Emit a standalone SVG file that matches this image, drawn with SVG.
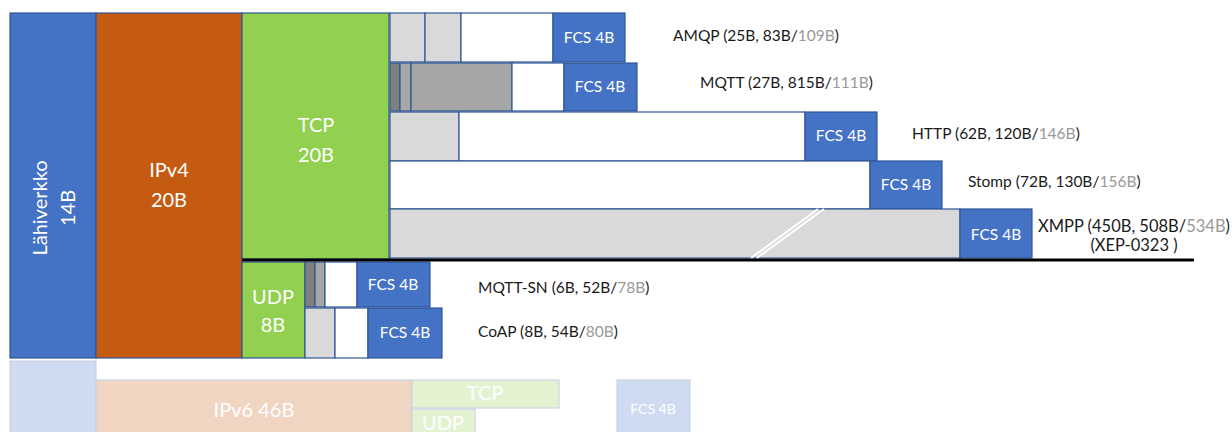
<svg xmlns="http://www.w3.org/2000/svg" width="1232" height="432" viewBox="0 0 1232 432">
<style>
rect{stroke:#2f5597;stroke-width:1.2}
.blue{fill:#4472c4}
.org{fill:#c55a11}
.grn{fill:#92d050}
.lg{fill:#d9d9d9}
.mg{fill:#a6a6a6}
.dg{fill:#7f7f7f}
.wh{fill:#ffffff}
text{font-family:Lato,"Open Sans","Liberation Sans",sans-serif}
.big{font-size:20px;fill:#fff;text-anchor:middle}
.fcs{font-size:15.5px;fill:#fff;text-anchor:middle}
.lbl{font-size:15.5px;fill:#1a1a1a}
.gr{fill:#999999}
</style>
<g id="faded" opacity="0.25">
<rect class="blue" x="10" y="361" width="86" height="75"/>
<rect class="org" x="96" y="380" width="316" height="56"/>
<rect class="grn" x="412" y="380" width="147" height="28"/>
<rect class="grn" x="412" y="409" width="63" height="27"/>
<rect class="blue" x="617" y="380" width="73" height="56"/>
</g>
<g id="faded-text">
<text class="big" x="254" y="417">IPv6 46B</text>
<text class="big" x="485" y="400">TCP</text>
<text class="big" x="443" y="430">UDP</text>
<text class="fcs" x="653" y="414" style="font-size:14px">FCS 4B</text>
</g>
<g id="lahiverkko">
<rect class="blue" x="10" y="13" width="86" height="345"/>
<text class="big" transform="translate(53,208) rotate(-90)"><tspan x="0" y="-6">Lähiverkko</tspan><tspan x="0" y="22">14B</tspan></text>
</g>
<g id="ipv4">
<rect class="org" x="96" y="13" width="146" height="345"/>
<text class="big"><tspan x="169" y="177">IPv4</tspan><tspan x="169" y="207">20B</tspan></text>
</g>
<g id="tcp">
<rect class="grn" x="242" y="13" width="147" height="246"/>
<text class="big"><tspan x="316" y="132">TCP</tspan><tspan x="316" y="162">20B</tspan></text>
</g>
<g id="udp">
<rect class="grn" x="242" y="262" width="63" height="96"/>
<text class="big"><tspan x="273" y="304">UDP</tspan><tspan x="273" y="332">8B</tspan></text>
</g>
<g id="amqp">
<rect class="lg" x="390" y="13" width="35" height="49"/>
<rect class="lg" x="425" y="13" width="36" height="49"/>
<rect class="wh" x="461" y="13" width="92" height="49"/>
<rect class="blue" x="553" y="13" width="72" height="49"/>
<text class="fcs" x="589" y="43">FCS 4B</text>
<text class="lbl" x="673" y="41">AMQP (25B, 83B/<tspan class="gr">109B</tspan>)</text>
</g>
<g id="mqtt">
<rect class="dg" x="390" y="63" width="10" height="48"/>
<rect class="mg" x="400" y="63" width="11" height="48"/>
<rect class="mg" x="411" y="63" width="101" height="48"/>
<rect class="wh" x="512" y="63" width="52" height="48"/>
<rect class="blue" x="564" y="63" width="73" height="48"/>
<text class="fcs" x="600" y="92">FCS 4B</text>
<text class="lbl" x="700" y="88">MQTT (27B, 815B/<tspan class="gr">111B</tspan>)</text>
</g>
<g id="http">
<rect class="lg" x="390" y="112" width="69" height="49"/>
<rect class="wh" x="459" y="112" width="346" height="49"/>
<rect class="blue" x="805" y="112" width="72" height="49"/>
<text class="fcs" x="841" y="141">FCS 4B</text>
<text class="lbl" x="912" y="139">HTTP (62B, 120B/<tspan class="gr">146B</tspan>)</text>
</g>
<g id="stomp">
<rect class="wh" x="390" y="161" width="480" height="48"/>
<rect class="blue" x="870" y="161" width="72" height="48"/>
<text class="fcs" x="906" y="190">FCS 4B</text>
<text class="lbl" x="968" y="187">Stomp (72B, 130B/<tspan class="gr">156B</tspan>)</text>
</g>
<g id="xmpp">
<rect class="lg" x="390" y="209" width="570" height="49"/>
<line x1="751" y1="258" x2="818" y2="209" stroke="#fff" stroke-width="2"/>
<line x1="757" y1="258" x2="824" y2="209" stroke="#fff" stroke-width="2"/>
<rect class="blue" x="960" y="209" width="72" height="49"/>
<text class="fcs" x="996" y="240">FCS 4B</text>
<text class="lbl" x="1038" y="232" style="font-size:16.5px">XMPP (450B, 508B/<tspan class="gr">534B</tspan>)</text>
<text class="lbl" x="1134" y="251" text-anchor="middle" style="font-size:16.5px">(XEP-0323 )</text>
</g>
<g id="mqtt-sn">
<rect class="dg" x="305" y="262" width="10" height="45"/>
<rect class="mg" x="315" y="262" width="10" height="45"/>
<rect class="wh" x="325" y="262" width="32" height="45"/>
<rect class="blue" x="357" y="262" width="73" height="45"/>
<text class="fcs" x="393" y="290">FCS 4B</text>
<text class="lbl" x="478" y="293">MQTT-SN (6B, 52B/<tspan class="gr">78B</tspan>)</text>
</g>
<g id="coap">
<rect class="lg" x="305" y="308" width="30" height="50"/>
<rect class="wh" x="335" y="308" width="33" height="50"/>
<rect class="blue" x="368" y="308" width="74" height="50"/>
<text class="fcs" x="405" y="338">FCS 4B</text>
<text class="lbl" x="478" y="337">CoAP (8B, 54B/<tspan class="gr">80B</tspan>)</text>
</g>
<g id="connectors">
<line x1="242" y1="260" x2="1194" y2="260" stroke="#000" stroke-width="3"/>
</g>
</svg>
